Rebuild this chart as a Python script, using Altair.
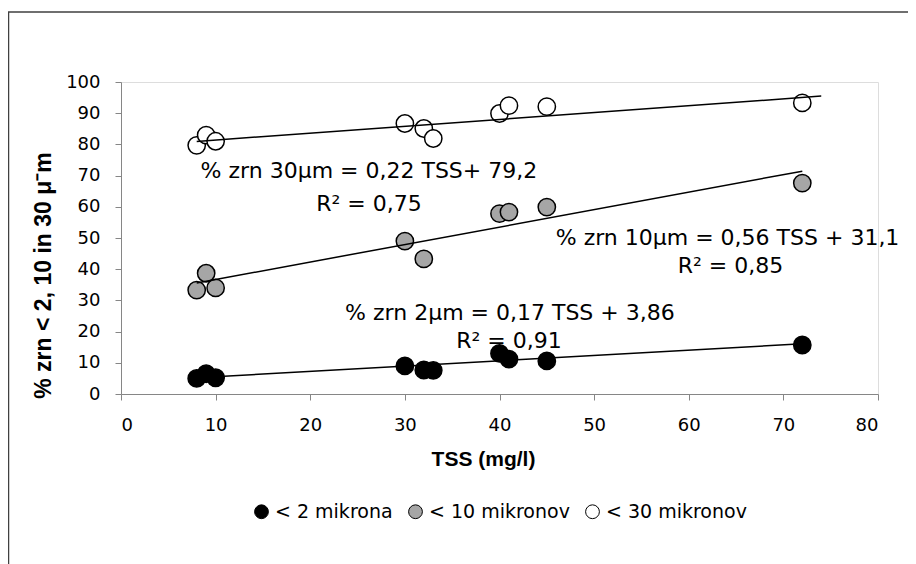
import altair as alt
import pandas as pd

# ---- data ----
series_names = ["< 2 mikrona", "< 10 mikronov", "< 30 mikronov"]

tss_2 = [8, 9, 10, 30, 32, 33, 40, 41, 45, 72]
pct_2 = [5.0, 6.5, 5.2, 9.0, 7.7, 7.6, 13.0, 11.2, 10.6, 15.7]

tss_10 = [8, 9, 10, 30, 32, 40, 41, 45, 72]
pct_10 = [33.3, 38.7, 34.0, 49.0, 43.3, 57.8, 58.3, 59.9, 67.6]

tss_30 = [8, 9, 10, 30, 32, 33, 40, 41, 45, 72]
pct_30 = [79.7, 83.0, 81.0, 86.7, 85.1, 81.9, 89.9, 92.4, 92.1, 93.3]

# trend lines (from the printed equations)
trend_slope = [0.17, 0.56, 0.22]
trend_intercept = [3.86, 31.1, 79.2]
trend_x_start = [8, 8, 8]
trend_x_end = [72, 72, 74]

# annotation texts and their anchor positions (data units)
ann_text = ["% zrn 30μm = 0,22 TSS+ 79,2", "R² = 0,75",
            "% zrn 10μm = 0,56 TSS + 31,1", "R² = 0,85",
            "% zrn 2μm = 0,17 TSS + 3,86", "R² = 0,91"]
ann_x = [26.2, 26.2, 64.1, 64.4, 41.1, 41.0]
ann_y = [69.1, 58.75, 47.8, 38.7, 23.7, 14.6]

x_ticks = [0, 10, 20, 30, 40, 50, 60, 70, 80]
y_ticks = [0, 10, 20, 30, 40, 50, 60, 70, 80, 90, 100]

fill_colors = ["#000000", "#a6a6a6", "#ffffff"]

# ---- tables ----
rows = []
for name, xs, ys in zip(series_names, [tss_2, tss_10, tss_30], [pct_2, pct_10, pct_30]):
    for x, y in zip(xs, ys):
        rows.append({"series": name, "tss": x, "pct": y})
points_df = pd.DataFrame(rows)

trend_rows = []
for name, a, b, x0, x1 in zip(series_names, trend_slope, trend_intercept, trend_x_start, trend_x_end):
    for x in (x0, x1):
        trend_rows.append({"series": name, "tss": x, "pct": a * x + b})
trend_df = pd.DataFrame(trend_rows)

ann_df = pd.DataFrame({"text": ann_text, "tss": ann_x, "pct": ann_y})

x_scale = alt.Scale(domain=[0, 80], nice=False, zero=True)
y_scale = alt.Scale(domain=[0, 100], nice=False, zero=True)

x_axis = alt.Axis(
    title="TSS (mg/l)", values=x_ticks, grid=False, labelOverlap=False,
    domainColor="#868686", tickColor="#868686", tickSize=6,
    labelFont="DejaVu Sans", labelFontSize=18, labelColor="#000000", labelPadding=16,
    titleFont="Liberation Sans", titleFontSize=21, titleFontWeight="bold", titleColor="#000000",
    titleX=362, titleY=71, titleBaseline="alphabetic", titleAlign="center", titleAnchor="start",
)
y_axis = alt.Axis(
    title="% zrn < 2, 10 in 30  μ⁻m", values=y_ticks, grid=False,
    labelOverlap=False,
    domainColor="#868686", tickColor="#868686", tickSize=6,
    labelFont="DejaVu Sans", labelFontSize=18, labelColor="#000000", labelPadding=15,
    titleFont="Liberation Sans", titleFontSize=23, titleFontWeight="bold", titleColor="#000000",
    titleAngle=-90, titleX=-78, titleY=193, titleAlign="center", titleBaseline="middle",
    titleAnchor="start",
)

X = alt.X("tss:Q", scale=x_scale, axis=x_axis)
Y = alt.Y("pct:Q", scale=y_scale, axis=y_axis)

border = alt.Chart(pd.DataFrame({"d": [0]})).mark_rect(
    fill=None, stroke="#404040", strokeWidth=1.5
).encode(
    x=alt.value(-112.5), x2=alt.value(900), y=alt.value(-70), y2=alt.value(600)
)

pts = alt.Chart(points_df).mark_point(
    shape="circle", filled=True, size=300, stroke="#000000", strokeWidth=1.5, opacity=1
).encode(
    x=X,
    y=Y,
    fill=alt.Fill(
        "series:N",
        scale=alt.Scale(domain=series_names, range=fill_colors),
        legend=alt.Legend(
            title=None, orient="none", direction="horizontal",
            legendX=131, legendY=420,
            symbolType="circle", symbolSize=190, symbolStrokeColor="#000000",
            symbolStrokeWidth=1, symbolOpacity=1,
            labelFont="DejaVu Sans", labelFontSize=19, labelColor="#000000",
            labelOffset=4, columnPadding=13, padding=0,
        ),
    ),
    order=alt.Order("series:N"),
)

lines = alt.Chart(trend_df).mark_line(color="#000000", strokeWidth=1.5).encode(
    x=X,
    y=Y,
    detail="series:N",
)

texts = alt.Chart(ann_df).mark_text(
    font="DejaVu Sans", fontSize=22, color="#000000", align="center", baseline="alphabetic"
).encode(
    x=X,
    y=Y,
    text="text:N",
)

chart = alt.layer(border, pts, lines, texts).properties(
    width=757, height=312,
    autosize=alt.AutoSizeParams(type="none"),
    padding={"left": 113, "top": 74, "right": 30, "bottom": 170},
).configure_view(stroke=None).configure(background="#ffffff")

chart.save("out.html", embed_options={"renderer": "svg", "actions": False})
